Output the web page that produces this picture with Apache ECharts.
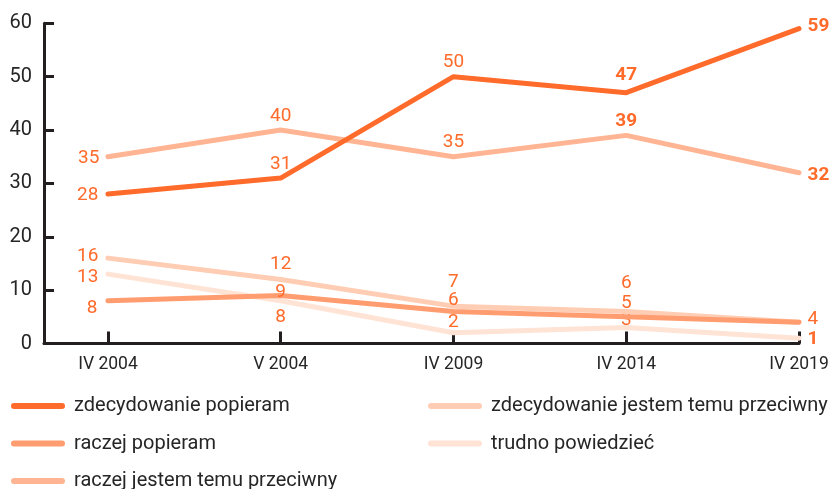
<!DOCTYPE html>
<html>
<head>
<meta charset="utf-8">
<script src="https://cdn.jsdelivr.net/npm/echarts@6/dist/echarts.min.js"></script>
<style>html,body{margin:0;padding:0;background:#fff}#c{width:832px;height:489px}</style>
</head>
<body>
<div id="c"></div>
<script>
// ---- data ----
const categories = ['IV 2004', 'V 2004', 'IV 2009', 'IV 2014', 'IV 2019'];
const yTicks = [0, 10, 20, 30, 40, 50, 60];
const names = ['zdecydowanie popieram', 'raczej popieram', 'raczej jestem temu przeciwny', 'zdecydowanie jestem temu przeciwny', 'trudno powiedzieć'];
const zdecPopieram = [28, 31, 50, 47, 59];
const raczejPopieram = [8, 9, 6, 5, 4];
const raczejPrzeciwny = [35, 40, 35, 39, 32];
const zdecPrzeciwny = [16, 12, 7, 6, 4];
const trudno = [13, 8, 2, 3, 1];

// ---- styling (label placement per point: [position, dx, dy, bold, show]) ----
const LBL = '#ff6b2b';
const TXT = '#262626';
const FONT = 'Roboto, "Noto Sans", sans-serif';
const labelCfg = {
  zp: [['left',-4,1.5,0,1],['top',0,1,0,1],['top',0,1,0,1],['top',0,-2,1,1],['right',3,-2.5,1,1]],
  rp: [['left',-5,7,0,1],['top',0,12,0,1],['top',0,4,0,1],['top',0,1,0,1],['right',3,0,0,0]],
  rpr:[['left',-3,1.5,0,1],['top',0,1,0,1],['top',0,1,0,1],['top',0,1,1,1],['right',3,2.5,1,1]],
  zpr:[['left',-4,-2,0,1],['top',0,0,0,1],['top',0,-9,0,1],['top',0,-13,0,1],['right',3,-2.5,0,1]],
  tr: [['left',-4,3,0,1],['bottom',0,1,0,1],['top',0,4,0,1],['top',0,8,0,1],['right',3,1,1,1]]
};
const colors = {zp:'#ff6b2b', rp:'#ff9d70', rpr:'#ffb593', zpr:'#ffcdb3', tr:'#ffe3d5'};

function mk(name, key, values, z) {
  return {
    name: name, type: 'line', z: z,
    symbol: 'circle', symbolSize: 1,
    itemStyle: {color: colors[key]},
    lineStyle: {color: colors[key], width: 5, cap: 'round', join: 'round'},
    emphasis: {disabled: true},
    data: values.map((v, i) => {
      const c = labelCfg[key][i];
      return {
        value: [i, v],
        label: {
          show: !!c[4], position: c[0], offset: [c[1], c[2]],
          fontWeight: c[3] ? 'bold' : 'normal'
        }
      };
    }),
    label: {color: LBL, fontSize: 19, fontFamily: FONT, formatter: p => String(p.value[1])}
  };
}

const icon = 'path://M3,0H51A3,3,0,0,1,51,6H3A3,3,0,0,1,3,0Z';
const legendBase = {
  orient: 'vertical', icon: icon, itemWidth: 54, itemHeight: 6, itemGap: 15.5,
  padding: 0, height: 200,
  textStyle: {fontSize: 20, fontFamily: FONT, color: TXT, lineHeight: 22, padding: [0,0,0,4]},
  selectedMode: false
};

const chart = echarts.init(document.getElementById('c'), null, {renderer: 'canvas'});
chart.setOption({
  animation: false,
  backgroundColor: '#fff',
  grid: {left: 44, right: 33, top: 23.3, bottom: 145.5, outerBoundsMode: 'none'},
  xAxis: {
    type: 'value', min: -0.37, max: 4,
    axisLine: {show: true, onZero: false, lineStyle: {color: '#231f20', width: 3}},
    axisTick: {show: true, inside: true, length: 12, lineStyle: {color: '#231f20', width: 3}, customValues: [0,1,2,3,4]},
    axisLabel: {customValues: [0,1,2,3,4], formatter: v => categories[Math.round(v)], fontSize: 17.5, fontFamily: FONT, color: TXT, margin: 12},
    splitLine: {show: false}
  },
  yAxis: {
    type: 'value', min: yTicks[0], max: yTicks[yTicks.length - 1], interval: 10,
    axisLine: {show: true, onZero: false, lineStyle: {color: '#231f20', width: 3}},
    axisTick: {show: true, inside: true, length: 10, lineStyle: {color: '#231f20', width: 3}},
    axisLabel: {fontSize: 20, fontFamily: FONT, color: TXT, margin: 12},
    splitLine: {show: false}
  },
  legend: [
    Object.assign({}, legendBase, {left: 11, top: 395, data: [names[0], names[1], names[2]]}),
    Object.assign({}, legendBase, {left: 428, top: 395, data: [names[3], names[4]]})
  ],
  series: [
    mk(names[4], 'tr', trudno, 2),
    mk(names[3], 'zpr', zdecPrzeciwny, 3),
    mk(names[2], 'rpr', raczejPrzeciwny, 4),
    mk(names[1], 'rp', raczejPopieram, 5),
    mk(names[0], 'zp', zdecPopieram, 6)
  ]
});
</script>
</body>
</html>
